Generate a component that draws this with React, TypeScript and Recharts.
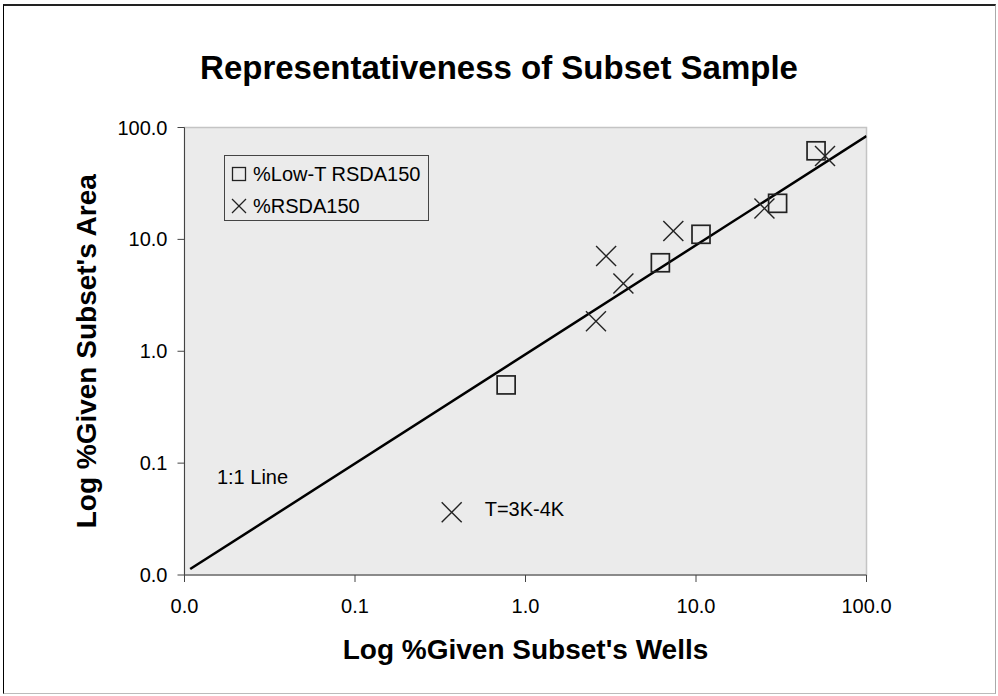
import {
  ScatterChart, Scatter, XAxis, YAxis, ReferenceArea, ReferenceDot, Legend, Label
} from "recharts";

// %Low-T RSDA150 (wells %, area %)
const lowTWells = [0.77, 6.18, 10.7, 30.1, 50.6];
const lowTArea = [0.5, 6.18, 11.1, 21.0, 61.9];

// %RSDA150 (first point is the T=3K-4K one)
const rsdaWells = [0.369, 2.59, 2.97, 3.75, 7.36, 25.2, 57.1];
const rsdaArea = [0.0363, 1.85, 7.09, 4.04, 11.9, 18.9, 55.5];

// 1:1 line ends
const lineWells = [0.0108, 100];
const lineArea = [0.0113, 84];

const axisTicks = [0.01, 0.1, 1, 10, 100];

const lowT = lowTWells.map((x, i) => ({ x, y: lowTArea[i] }));
const rsda = rsdaWells.map((x, i) => ({ x, y: rsdaArea[i] }));
const oneToOne = lineWells.map((x, i) => ({ x, y: lineArea[i] }));

const FONT = '"Liberation Sans", Arial, sans-serif';

function SquareMark(props: any) {
  const { cx, cy } = props;
  const s = 18;
  return <rect x={cx - s / 2} y={cy - s / 2} width={s} height={s} fill="none" stroke="#222" strokeWidth={1.7} />;
}

function CrossMark(props: any) {
  const { cx, cy } = props;
  const h = 10;
  return (
    <g stroke="#222" strokeWidth={1.4}>
      <line x1={cx - h} y1={cy - h} x2={cx + h} y2={cy + h} />
      <line x1={cx - h} y1={cy + h} x2={cx + h} y2={cy - h} />
    </g>
  );
}

function LegendBox() {
  const row = { display: "flex", alignItems: "center", height: 32, fontSize: 20, color: "#000" };
  return (
    <div style={{ border: "1px solid #444", background: "#ebebeb", width: 205, height: 66, boxSizing: "border-box", padding: "2px 0 0 6px", fontFamily: FONT }}>
      <div style={row}>
        <svg width={16} height={16} style={{ marginRight: 6 }}>
          <rect x={1.5} y={1.5} width={13} height={13} fill="none" stroke="#222" strokeWidth={1.3} />
        </svg>
        %Low-T RSDA150
      </div>
      <div style={row}>
        <svg width={16} height={16} style={{ marginRight: 6 }}>
          <g stroke="#222" strokeWidth={1.3}>
            <line x1={1} y1={1} x2={15} y2={15} />
            <line x1={1} y1={15} x2={15} y2={1} />
          </g>
        </svg>
        %RSDA150
      </div>
    </div>
  );
}

export default function App() {
  const fmt = (v: number) => v.toFixed(1);
  return (
    <div style={{ position: "absolute", left: 0, top: 0, width: 998, height: 696, background: "#fff", fontFamily: FONT }}>
      <div style={{ position: "absolute", left: 3, top: 4, width: 993, height: 690, borderTop: "2px solid #222", borderLeft: "1.5px solid #000", borderRight: "1px solid #aaa", borderBottom: "1px solid #bbb", boxSizing: "border-box" }} />
      <div style={{ position: "absolute", left: 0, width: 998, top: 49, textAlign: "center", fontSize: 33, fontWeight: "bold", color: "#000" }}>
        Representativeness of Subset Sample
      </div>
      <ScatterChart width={998} height={696} margin={{ top: 127.5, right: 131.5, left: 94.5, bottom: 71 }} style={{ position: "absolute", left: 0, top: 0 }}>
        <XAxis
          type="number" dataKey="x" scale="log" domain={[0.01, 100]} ticks={axisTicks} allowDataOverflow
          tickFormatter={fmt} height={50} tickSize={7} tickMargin={17}
          stroke="#444" tick={{ fontSize: 20, fill: "#000" }}
        >
          <Label value="Log %Given Subset's Wells" position="bottom" offset={14} style={{ fontSize: 28, fontWeight: "bold", fill: "#000" }} />
        </XAxis>
        <YAxis
          type="number" dataKey="y" scale="log" domain={[0.01, 100]} ticks={axisTicks} allowDataOverflow
          tickFormatter={fmt} width={90} tickSize={7} tickMargin={10}
          stroke="#444" tick={{ fontSize: 20, fill: "#000" }}
        >
          <Label value="Log %Given Subset's Area" angle={-90} position="insideLeft" offset={-8} style={{ fontSize: 28, fontWeight: "bold", fill: "#000", textAnchor: "middle" }} />
        </YAxis>
        <ReferenceArea x1={0.01} x2={100} y1={0.01} y2={100} fill="#ebebeb" fillOpacity={1} stroke="#c4c4c4" strokeWidth={1.5} />
        <Legend
          content={<LegendBox />} layout="horizontal" verticalAlign="middle" align="center"
          wrapperStyle={{ position: "absolute", left: 224, top: 155, width: 205, height: 66 }}
        />
        <Scatter data={oneToOne} line={{ stroke: "#000", strokeWidth: 2.5 }} shape={() => <g />} legendType="none" isAnimationActive={false} />
        <Scatter name="%Low-T RSDA150" data={lowT} shape={<SquareMark />} isAnimationActive={false} />
        <Scatter name="%RSDA150" data={rsda} shape={<CrossMark />} isAnimationActive={false} />
        <ReferenceDot x={0.0155} y={0.0756} r={0} fill="none" stroke="none" label={{ value: "1:1 Line", position: "right", offset: 0, fontSize: 20, fill: "#000" }} />
        <ReferenceDot x={rsdaWells[0]} y={rsdaArea[0]} r={0} fill="none" stroke="none" label={{ value: "T=3K-4K", position: "right", offset: 33, fontSize: 20, fill: "#000", dy: -3 }} />
      </ScatterChart>
    </div>
  );
}
